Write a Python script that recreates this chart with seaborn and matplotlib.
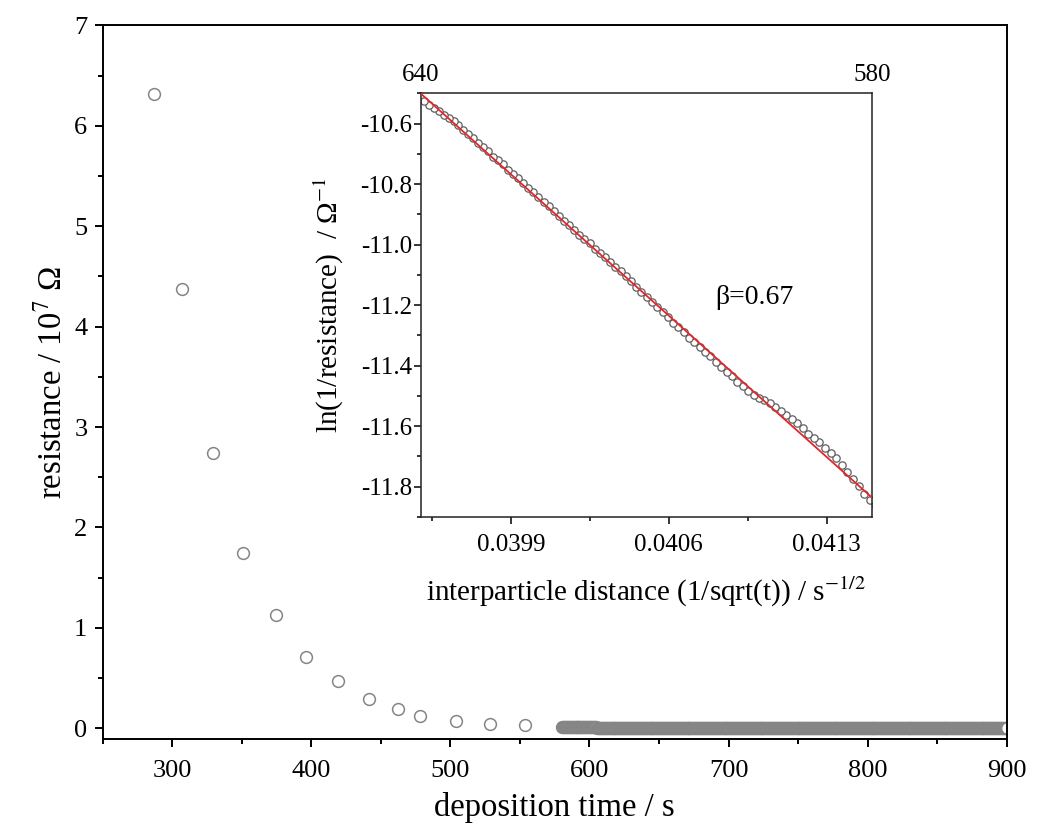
import numpy as np
import pandas as pd
import seaborn as sns
import matplotlib
matplotlib.use("Agg")
import matplotlib.pyplot as plt
from matplotlib.ticker import MultipleLocator, AutoMinorLocator, FormatStrFormatter

# ---------------- data ----------------
# sparse early measurements (deposition time in s, resistance in 10^7 Ohm)
sparse_time = [286.9, 306.8, 329.0, 351.0, 374.5, 396.5, 419.5, 441.8, 462.2, 478.3, 504.0, 528.6, 554.0]
sparse_res = [6.32, 4.38, 2.74, 1.75, 1.13, 0.71, 0.47, 0.29, 0.19, 0.125, 0.073, 0.043, 0.033]

inset_time = np.round(np.arange(580.2, 640.45, 0.7), 1)
inset_ln = [
    -11.865, -11.845, -11.823, -11.799, -11.774, -11.750, -11.727, -11.705, -11.687, -11.672,
    -11.653, -11.638, -11.625, -11.605, -11.590, -11.577, -11.563, -11.550, -11.535, -11.522,
    -11.514, -11.508, -11.498, -11.484, -11.467, -11.453, -11.434, -11.420, -11.406, -11.387,
    -11.369, -11.356, -11.339, -11.321, -11.308, -11.290, -11.273, -11.258, -11.240, -11.224,
    -11.206, -11.190, -11.173, -11.156, -11.139, -11.121, -11.105, -11.088, -11.074, -11.058,
    -11.040, -11.028, -11.014, -10.996, -10.981, -10.968, -10.951, -10.934, -10.921, -10.907,
    -10.890, -10.872, -10.859, -10.842, -10.826, -10.813, -10.796, -10.779, -10.766, -10.752,
    -10.735, -10.722, -10.709, -10.691, -10.677, -10.664, -10.647, -10.633, -10.621, -10.605,
    -10.593, -10.581, -10.571, -10.560, -10.550, -10.537, -10.524,
]
assert len(inset_ln) == len(inset_time)

# linear fit shown in the inset
fit_slope = -668.0
fit_intercept = 15.886

# late measurements 641-900 s (every 0.7 s): resistance levels read per time segment (10^7 Ohm)
tail_breaks = [640.5, 680, 720, 760, 800, 850, 901]
tail_levels = [0.0030, 0.0022, 0.0016, 0.0012, 0.0009, 0.0007]
tail_time = np.round(np.arange(641.1, 900.2, 0.7), 1)

main_xlim = (250, 900)
main_ylim = (-0.11, 7)
inset_xlim = (0.0395, 0.0415)
inset_ylim = (-11.9, -10.5)
inset_top_labels = ["640", "580"]

# ---------------- assemble ----------------
inset_x = 1.0 / np.sqrt(inset_time)
inset_df = pd.DataFrame({"x": inset_x, "ln": inset_ln})

dense_res = np.exp(-np.array(inset_ln)) / 1e7
seg_idx = np.searchsorted(tail_breaks, tail_time, side="right") - 1
tail_res = np.array(tail_levels)[seg_idx]

main_df = pd.DataFrame({
    "t": np.concatenate([sparse_time, inset_time, tail_time]),
    "R": np.concatenate([sparse_res, dense_res, tail_res]),
}).sort_values("t", kind="stable")

fit_x = np.array(inset_xlim)
fit_df = pd.DataFrame({"x": fit_x, "y": fit_intercept + fit_slope * fit_x})

# ---------------- style ----------------
sns.set_style("ticks")
plt.rcParams["font.family"] = ["Liberation Serif", "DejaVu Serif"]
plt.rcParams["mathtext.fontset"] = "stix"
plt.rcParams["axes.unicode_minus"] = False
for key in ["text.color", "axes.labelcolor", "xtick.color", "ytick.color",
            "xtick.labelcolor", "ytick.labelcolor", "axes.edgecolor"]:
    plt.rcParams[key] = "black"

fig = plt.figure(figsize=(10.37, 8.31), dpi=100)
ax = fig.add_axes([0.0990, 0.1103, 0.8718, 0.8591])

sns.scatterplot(data=main_df, x="t", y="R", ax=ax, marker="o", s=72,
                facecolor="white", edgecolor="#858585", linewidth=1.1, legend=False)

ax.set_xlim(*main_xlim)
ax.set_ylim(*main_ylim)
ax.xaxis.set_major_locator(MultipleLocator(100))
ax.xaxis.set_minor_locator(MultipleLocator(50))
ax.yaxis.set_major_locator(MultipleLocator(1))
ax.yaxis.set_minor_locator(MultipleLocator(0.5))
ax.tick_params(axis="both", which="major", direction="out", length=6, width=1.4,
               labelsize=19, color="black", labelcolor="black")
ax.tick_params(axis="both", which="minor", direction="out", length=3.5, width=1.4, color="black")
ax.tick_params(axis="x", which="major", pad=9)
ax.tick_params(axis="y", which="major", pad=5)
for sp in ax.spines.values():
    sp.set_visible(True)
    sp.set_linewidth(1.4)
    sp.set_color("black")
ax.set_xlabel("deposition time / s", fontsize=23.5, labelpad=7, color="black")
ax.set_ylabel(r"resistance / 10$^{7}$ Ω", fontsize=23.5, labelpad=4, color="black")

# ---------------- inset ----------------
ax2 = fig.add_axes([0.4055, 0.3779, 0.4354, 0.5098])
ax2.set_facecolor("white")
sns.scatterplot(data=inset_df, x="x", y="ln", ax=ax2, marker="o", s=28,
                facecolor="white", edgecolor="#5f5f5f", linewidth=0.9, legend=False, zorder=2)
sns.lineplot(data=fit_df, x="x", y="y", ax=ax2, color="#e3262b", linewidth=1.3, zorder=3)

ax2.set_xlim(*inset_xlim)
ax2.set_ylim(*inset_ylim)
ax2.xaxis.set_major_locator(MultipleLocator(0.0007))
ax2.xaxis.set_minor_locator(AutoMinorLocator(2))
ax2.yaxis.set_major_locator(MultipleLocator(0.2))
ax2.yaxis.set_minor_locator(AutoMinorLocator(2))
ax2.xaxis.set_major_formatter(FormatStrFormatter("%.4f"))
ax2.yaxis.set_major_formatter(FormatStrFormatter("%.1f"))
ax2.tick_params(axis="both", which="major", direction="out", length=5, width=1.1,
                labelsize=18, color="black", labelcolor="black")
ax2.tick_params(axis="both", which="minor", direction="out", length=3, width=1.1, color="black")
ax2.tick_params(axis="x", which="major", pad=7)
ax2.tick_params(axis="y", which="major", pad=1)
for sp in ax2.spines.values():
    sp.set_visible(True)
    sp.set_linewidth(1.1)
    sp.set_color("#222222")
ax2.set_xlabel(r"interparticle distance (1/sqrt(t)) / s$^{-1/2}$", fontsize=21, labelpad=14, color="black")
ax2.set_ylabel(r"ln(1/resistance)  / Ω$^{-1}$", fontsize=21, labelpad=10, color="black")

for xv, lab in zip(inset_xlim, inset_top_labels):
    ax2.text(xv, 1.03, lab, transform=ax2.get_xaxis_transform(), ha="center",
             va="baseline", fontsize=18, color="black")

ax2.text(0.040805, -11.176, "β=0.67", ha="left", va="center", fontsize=20, color="black")

fig.savefig("out.png", dpi=100)
